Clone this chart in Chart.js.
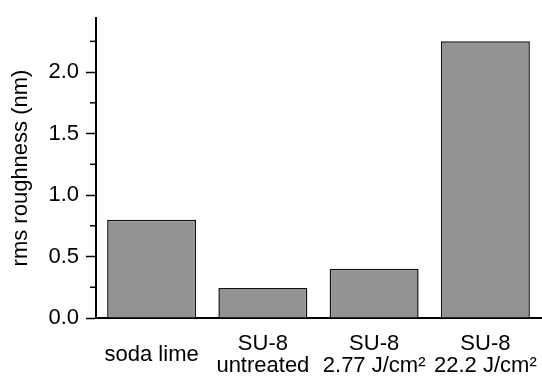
<!DOCTYPE html>
<html>
<head>
<meta charset="utf-8">
<script src="https://cdn.jsdelivr.net/npm/chart.js@4"></script>
<style>
  body { margin: 0; background: #fff; }
</style>
</head>
<body>
<canvas id="roughnessChart" width="542" height="379"></canvas>
<script>
const categories = [['soda lime'], ['SU-8', 'untreated'], ['SU-8', '2.77 J/cm²'], ['SU-8', '22.2 J/cm²']];
const roughness = [0.8, 0.245, 0.4, 2.25];
const yMax = 2.44;
const majorStep = 0.5;
const minorStep = 0.25;

// short unlabeled ticks halfway between the labelled ones
const minorTicks = {
  id: 'minorTicks',
  afterDraw(chart) {
    const y = chart.scales.y;
    const ctx = chart.ctx;
    ctx.save();
    ctx.strokeStyle = '#000';
    ctx.lineWidth = 1.5;
    for (let v = minorStep; v <= yMax; v += majorStep) {
      const py = y.getPixelForValue(v);
      ctx.beginPath();
      ctx.moveTo(y.right - 6, py);
      ctx.lineTo(y.right, py);
      ctx.stroke();
    }
    ctx.restore();
  }
};

const font = { family: '"Liberation Sans", Arial, sans-serif', size: 22, lineHeight: 1.0 };

new Chart(document.getElementById('roughnessChart').getContext('2d'), {
  type: 'bar',
  data: {
    labels: categories,
    datasets: [{
      data: roughness,
      backgroundColor: '#939393',
      borderColor: '#111',
      borderWidth: 1.5,
      categoryPercentage: 1,
      barPercentage: 0.8
    }]
  },
  options: {
    responsive: false,
    animation: false,
    devicePixelRatio: 1,
    layout: { padding: { top: 14, right: 1, left: 0, bottom: 0 } },
    plugins: { legend: { display: false }, tooltip: { enabled: false } },
    scales: {
      x: {
        afterFit: (scale) => {
          scale.height = 61;
          scale.paddingLeft = 0;
          scale.paddingRight = 0;
        },
        grid: { display: false },
        border: { display: true, color: '#000', width: 2 },
        ticks: { color: '#000', font: font, padding: 18, crossAlign: 'center', maxRotation: 0, autoSkip: false }
      },
      y: {
        min: 0,
        max: yMax,
        afterBuildTicks: (scale) => {
          scale.ticks = scale.ticks.filter(t => Math.abs(t.value / majorStep - Math.round(t.value / majorStep)) < 1e-6);
        },
        afterFit: (scale) => { scale.width = 96; },
        grid: { drawOnChartArea: false, tickLength: 10, tickColor: '#000', tickWidth: 1.5 },
        border: { display: true, color: '#000', width: 2 },
        ticks: { stepSize: majorStep, color: '#000', font: font, padding: 7, callback: v => v.toFixed(1) },
        title: { display: true, text: 'rms roughness (nm)', color: '#000', font: font, padding: { top: 10, bottom: 4 } }
      }
    }
  },
  plugins: [minorTicks]
});
</script>
</body>
</html>
